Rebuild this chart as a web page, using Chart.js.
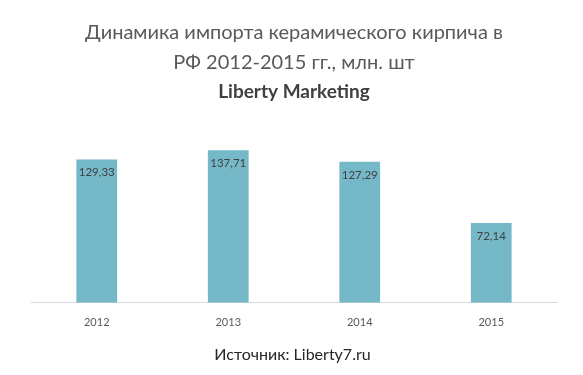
<!DOCTYPE html>
<html>
<head>
<meta charset="utf-8">
<script src="https://cdn.jsdelivr.net/npm/chart.js@4"></script>
<style>
    html, body { margin: 0; padding: 0; background: #fff; }
    #wrap { width: 583px; height: 375px; }
</style>
</head>
<body>
<div id="wrap"><canvas id="importChart" width="583" height="375"></canvas></div>
<script>
// --- DATA ---
const years = ["2012", "2013", "2014", "2015"];
const importValues = [129.33, 137.71, 127.29, 72.14];
const titleLines = ["Динамика импорта керамического кирпича в", "РФ 2012-2015 гг., млн. шт"];
const subtitleText = "Liberty Marketing";
const sourceText = "Источник: Liberty7.ru";

const FONT = "Lato, 'Open Sans', sans-serif";

// Value labels inside the top of each bar
const barLabels = {
    id: 'barLabels',
    afterDatasetsDraw(chart) {
        const ctx = chart.ctx;
        const meta = chart.getDatasetMeta(0);
        ctx.save();
        ctx.font = "11.5px " + FONT;
        ctx.fillStyle = "#404040";
        ctx.textAlign = "center";
        ctx.textBaseline = "middle";
        meta.data.forEach((bar, i) => {
            const txt = importValues[i].toFixed(2).replace('.', ',');
            ctx.fillText(txt, bar.x, bar.y + 13);
        });
        ctx.restore();
    }
};

// Source line at the bottom
const sourceNote = {
    id: 'sourceNote',
    afterDraw(chart) {
        const ctx = chart.ctx;
        ctx.save();
        ctx.font = "16px " + FONT;
        ctx.fillStyle = "#262626";
        ctx.textAlign = "center";
        ctx.textBaseline = "middle";
        ctx.fillText(sourceText, chart.width / 2 + 1, 355);
        ctx.restore();
    }
};

new Chart(document.getElementById("importChart"), {
    type: 'bar',
    data: {
        labels: years,
        datasets: [{
            data: importValues,
            backgroundColor: '#75b9c9',
            barPercentage: 0.62,
            categoryPercentage: 0.5
        }]
    },
    options: {
        responsive: false,
        animation: false,
        layout: { padding: { left: 31, right: 26, top: 0, bottom: 41 } },
        plugins: {
            legend: { display: false },
            tooltip: { enabled: false },
            title: {
                display: true,
                text: titleLines,
                color: '#595959',
                font: { family: FONT, size: 20, weight: 'normal', lineHeight: 1.48 },
                padding: { top: 18, bottom: 0 }
            },
            subtitle: {
                display: true,
                text: subtitleText,
                color: '#404040',
                font: { family: FONT, size: 19, weight: 'bold', lineHeight: 1.55 },
                padding: { top: 0, bottom: 19 }
            }
        },
        scales: {
            x: {
                grid: { display: false },
                border: { color: '#d9d9d9', width: 1 },
                ticks: { color: '#595959', font: { family: FONT, size: 11 }, padding: 5 }
            },
            y: {
                display: false,
                min: 0,
                max: 160
            }
        }
    },
    plugins: [barLabels, sourceNote]
});
</script>
</body>
</html>
